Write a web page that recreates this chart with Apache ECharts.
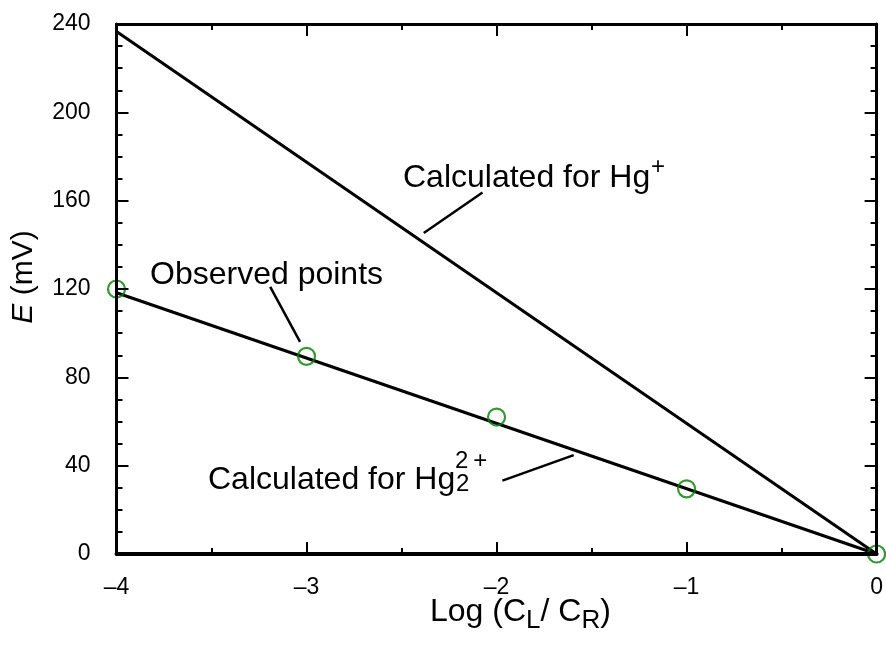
<!DOCTYPE html>
<html>
<head>
<meta charset="utf-8">
<script src="https://cdn.jsdelivr.net/npm/echarts@6/dist/echarts.min.js"></script>
<style>html,body{margin:0;padding:0;background:#fff}#c{width:886px;height:647px}</style>
</head>
<body>
<div id="c"></div>
<script>
// ---- data ----
var xTicks = [-4, -3, -2, -1, 0];
var yTicks = [0, 40, 80, 120, 160, 200, 240];
var hgPlusLine = [[-4, 236.6], [0, 0]];
var hg2Line = [[-4, 118.3], [0, 0]];
var observed = [[-4, 120], [-3, 89.5], [-2, 62], [-1, 29.5], [0, 0]];
// leader lines for annotations (data coordinates)
var leaderHgPlus = [[-2.383, 145.4], [-2.074, 163.7]];
var leaderObserved = [[-3.191, 121], [-3.034, 96.1]];
var leaderHg2 = [[-1.969, 33.2], [-1.594, 44.8]];

var FONT = "'Liberation Sans', Arial, sans-serif";
var chart = echarts.init(document.getElementById('c'));

function fmt(v){ return v < 0 ? '\u2013' + Math.abs(v) : String(v); }

var axisBase = {
  type: 'value',
  z: 5,
  axisLine: { show: true, onZero: false, lineStyle: { color: '#000', width: 3 } },
  axisTick: { show: true, inside: true, length: 12, lineStyle: { color: '#000', width: 2 } },
  minorTick: { show: true, length: 6, lineStyle: { color: '#000', width: 2 } },
  splitLine: { show: false }
};

function lineSeg(pair){ return [{ coord: pair[0] }, { coord: pair[1] }]; }

var option = {
  animation: false,
  backgroundColor: '#fff',
  grid: { left: 116.5, right: 2, top: 24, bottom: 93 },
  xAxis: [
    Object.assign({}, axisBase, {
      position: 'bottom', min: xTicks[0], max: xTicks[xTicks.length-1], interval: 1,
      axisLine: { show: true, onZero: false, lineStyle: { color: '#000', width: 4 } },
      minorTick: { show: true, splitNumber: 2, length: 6, lineStyle: { color: '#000', width: 2 } },
      axisLabel: { show: true, margin: 22, color: '#000', fontSize: 23, fontFamily: FONT, formatter: fmt, showMaxLabel: true, showMinLabel: true }
    }),
    Object.assign({}, axisBase, {
      position: 'top', min: xTicks[0], max: xTicks[xTicks.length-1], interval: 1,
      minorTick: { show: true, splitNumber: 2, length: 6, lineStyle: { color: '#000', width: 2 } },
      axisLabel: { show: false }
    })
  ],
  yAxis: [
    Object.assign({}, axisBase, {
      position: 'left', min: yTicks[0], max: yTicks[yTicks.length-1], interval: 40,
      minorTick: { show: true, splitNumber: 4, length: 6, lineStyle: { color: '#000', width: 2 } },
      axisLabel: { show: true, margin: 26, color: '#000', fontSize: 23, fontFamily: FONT }
    }),
    Object.assign({}, axisBase, {
      position: 'right', min: yTicks[0], max: yTicks[yTicks.length-1], interval: 40,
      minorTick: { show: true, splitNumber: 4, length: 6, lineStyle: { color: '#000', width: 2 } },
      axisLabel: { show: false }
    })
  ],
  series: [
    { type: 'line', data: hgPlusLine, symbol: 'none', z: 2, lineStyle: { color: '#000', width: 3 } },
    { type: 'line', data: hg2Line, symbol: 'none', z: 2, lineStyle: { color: '#000', width: 3 } },
    { type: 'scatter', data: observed, symbol: 'circle', symbolSize: 17, z: 3,
      itemStyle: { color: 'rgba(255,255,255,0)', borderColor: '#008000', borderWidth: 2.2 } },
    { type: 'line', data: [], symbol: 'none',
      markLine: { silent: true, symbol: 'none', animation: false, label: { show: false },
        lineStyle: { color: '#000', width: 2.5, type: 'solid' },
        data: [lineSeg(leaderHgPlus), lineSeg(leaderObserved), lineSeg(leaderHg2)] } }
  ],
  graphic: [
    { type: 'text', left: 403, top: 162, style: { text: 'Calculated for Hg', font: '32px ' + FONT, fill: '#000' } },
    { type: 'text', left: 651, top: 155, style: { text: '+', font: '24px ' + FONT, fill: '#000' } },
    { type: 'text', left: 150, top: 259, style: { text: 'Observed points', font: '32px ' + FONT, fill: '#000' } },
    { type: 'text', left: 208, top: 464, style: { text: 'Calculated for Hg', font: '32px ' + FONT, fill: '#000' } },
    { type: 'text', left: 456, top: 472, style: { text: '2', font: '24px ' + FONT, fill: '#000' } },
    { type: 'text', left: 455, top: 449, style: { text: '2\u2009+', font: '24px ' + FONT, fill: '#000' } },
    { type: 'text', left: 430, top: 596, style: {
        text: '{m|Log (C}{s|L}{m|/ C}{s|R}{m|)}', fill: '#000',
        rich: { m: { fontSize: 32, fontFamily: FONT, lineHeight: 38, verticalAlign: 'top', color: '#000' },
                s: { fontSize: 26, fontFamily: FONT, lineHeight: 18, verticalAlign: 'bottom', color: '#000' } } } },
    { type: 'text', x: 24, y: 277, rotation: Math.PI / 2, style: {
        text: '{i|E} (mV)', align: 'center', verticalAlign: 'middle', fill: '#000',
        rich: { i: { fontSize: 30, fontFamily: FONT, fontStyle: 'italic', color: '#000' } },
        font: '30px ' + FONT } }
  ]
};
chart.setOption(option);
</script>
</body>
</html>
